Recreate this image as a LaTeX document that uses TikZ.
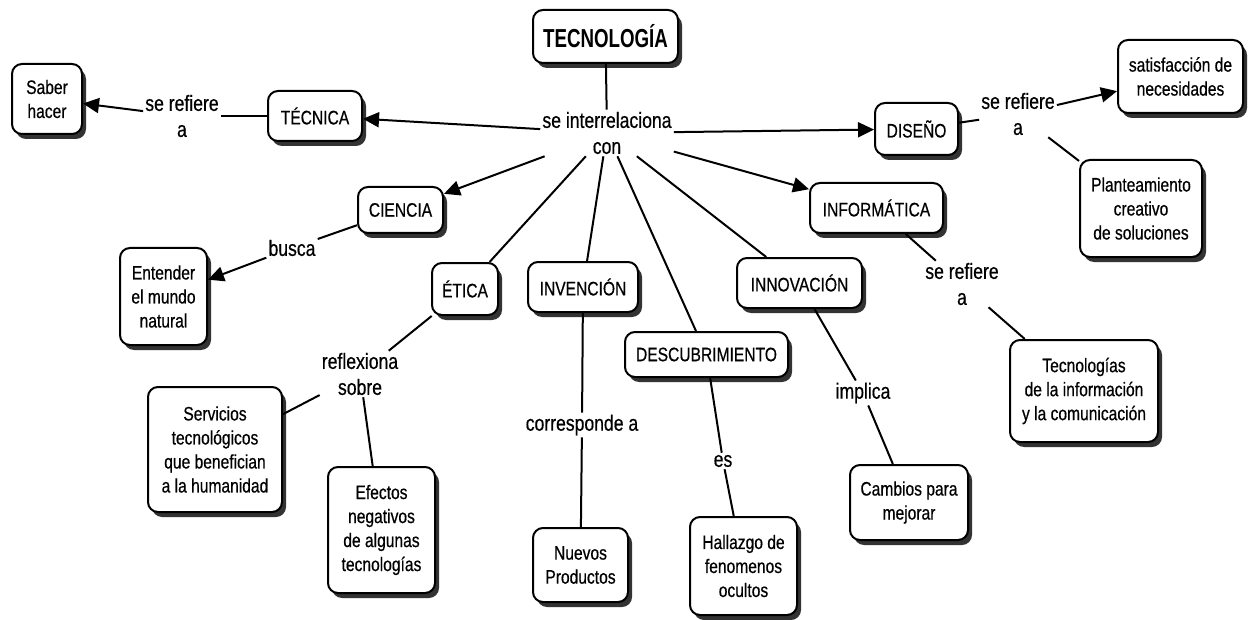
\documentclass[tikz,border=0pt]{standalone}
\usepackage{fontspec}
\setmainfont[FakeStretch=0.8,FakeBold=0.5,BoldFeatures={FakeStretch=0.72,FakeBold=0}]{Liberation Sans}
\usetikzlibrary{arrows.meta,shadows}
\begin{document}
\begin{tikzpicture}[x=1pt,y=-1pt,
 box/.style={draw=black, line width=2pt, rounded corners=10pt, fill=white, align=center, inner sep=1pt,
   font=\fontsize{19.5}{24}\selectfont,
   drop shadow={shadow xshift=4pt, shadow yshift=-5pt, opacity=1, fill=black!80}},
 lbl/.style={align=center, inner sep=2pt, font=\fontsize{22}{26}\selectfont},
 con/.style={line width=2pt},
 arr/.style={line width=2pt, -{Triangle[length=16pt,width=15pt]}}]
\useasboundingbox (0,0) rectangle (1249,620);
% boxes
\node[box, minimum width=145pt, minimum height=53pt, font=\fontsize{26}{30}\selectfont\bfseries] (tec) at (605.5,36.5) {TECNOLOGÍA};
\node[box, minimum width=70pt, minimum height=70pt] (saber) at (47,99) {Saber\\hacer};
\node[box, minimum width=94pt, minimum height=50pt] (tecnica) at (315,116) {TÉCNICA};
\node[box, minimum width=83pt, minimum height=52pt] (diseno) at (916.5,129) {DISEÑO};
\node[box, minimum width=125pt, minimum height=73pt] (satis) at (1180.5,76.5) {satisfacción de\\necesidades};
\node[box, minimum width=122pt, minimum height=97pt] (plante) at (1141,208.5) {Planteamiento\\creativo\\de soluciones};
\node[box, minimum width=85pt, minimum height=46pt] (ciencia) at (400.5,210) {CIENCIA};
\node[box, minimum width=87pt, minimum height=97pt] (entender) at (163.5,296.5) {Entender\\el mundo\\natural};
\node[box, minimum width=66pt, minimum height=52pt] (etica) at (465,289) {ÉTICA};
\node[box, minimum width=134pt, minimum height=125pt] (servicios) at (215,449.5) {Servicios\\tecnológicos\\que benefician\\a la humanidad};
\node[box, minimum width=107pt, minimum height=126pt] (efectos) at (381.5,530) {Efectos\\negativos\\de algunas\\tecnologías};
\node[box, minimum width=110pt, minimum height=50pt] (invencion) at (583,287) {INVENCIÓN};
\node[box, minimum width=95pt, minimum height=74pt] (nuevos) at (580.5,565) {Nuevos\\Productos};
\node[box, minimum width=163pt, minimum height=45pt] (descub) at (706.5,354.5) {DESCUBRIMIENTO};
\node[box, minimum width=107pt, minimum height=98pt] (hallazgo) at (743.5,566) {Hallazgo de\\fenomenos\\ocultos};
\node[box, minimum width=125pt, minimum height=50pt] (innov) at (799.5,283) {INNOVACIÓN};
\node[box, minimum width=118pt, minimum height=75pt] (cambios) at (909,502.5) {Cambios para\\mejorar};
\node[box, minimum width=133pt, minimum height=50pt] (informatica) at (876.5,208) {INFORMÁTICA};
\node[box, minimum width=148pt, minimum height=102pt] (tics) at (1084,391) {Tecnologías\\de la información\\y la comunicación};
% linking phrases
\node[lbl] (rel) at (607,133) {se interrelaciona\\con};
\node[lbl] (ref1) at (182,116) {se refiere\\a};
\node[lbl] (ref2) at (1018,114) {se refiere\\a};
\node[lbl] (busca) at (292,248) {busca};
\node[lbl] (refl) at (360,374) {reflexiona\\sobre};
\node[lbl] (corr) at (582,425) {corresponde a};
\node[lbl] (es) at (723,461) {es};
\node[lbl] (impl) at (863,393) {implica};
\node[lbl] (ref3) at (962,284) {se refiere\\a};
% connectors
\draw[con] (tec) -- (rel);
\draw[arr] (rel) -- (tecnica);
\draw[arr] (rel) -- (diseno);
\draw[arr] (rel) -- (ciencia);
\draw[arr] (rel) -- (informatica);
\draw[con] (rel) -- (etica);
\draw[con] (rel) -- (invencion);
\draw[con] (rel) -- (descub);
\draw[con] (rel) -- (innov);
\draw[con] (tecnica) -- (ref1);
\draw[arr] (ref1) -- (saber);
\draw[con] (diseno) -- (ref2);
\draw[arr] (ref2) -- (satis);
\draw[con] (ref2) -- (plante);
\draw[con] (ciencia) -- (busca);
\draw[arr] (busca) -- (entender);
\draw[con] (etica) -- (refl);
\draw[con] (refl) -- (servicios);
\draw[con] (refl) -- (efectos);
\draw[con] (invencion) -- (corr);
\draw[con] (corr) -- (nuevos);
\draw[con] (descub) -- (es);
\draw[con] (es) -- (hallazgo);
\draw[con] (innov) -- (impl);
\draw[con] (impl) -- (cambios);
\draw[con] (informatica) -- (ref3);
\draw[con] (ref3) -- (tics);
\end{tikzpicture}
\end{document}
